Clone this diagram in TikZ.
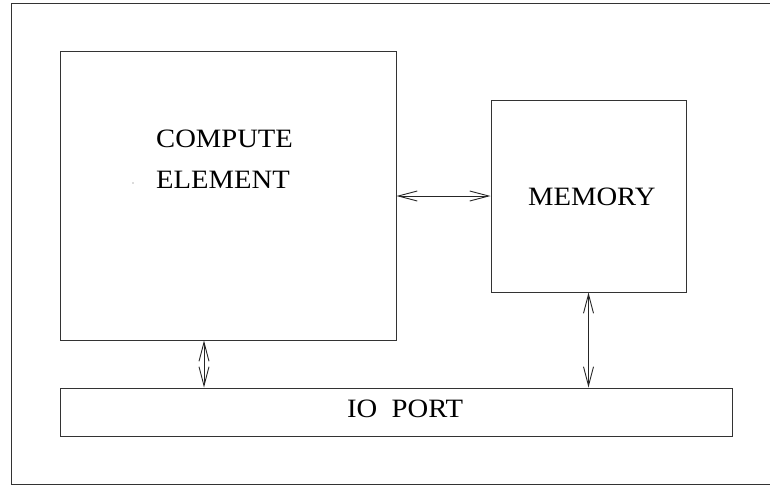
\documentclass[tikz,border=0pt]{standalone}
\usepackage{fontspec}
\setmainfont{Liberation Serif}
\usetikzlibrary{arrows.meta}
\begin{document}
\begin{tikzpicture}[x=1pt,y=-1pt,
  box/.style={draw=black!80,line width=1pt,minimum width=#1},
  conn/.style={draw=black!85,line width=0.9pt,{Straight Barb[length=19pt,width=10pt]}-{Straight Barb[length=19pt,width=10pt]}},
  lbl/.style={font=\fontsize{26.5}{30}\selectfont,anchor=base west,inner sep=0pt}]
\useasboundingbox (0,0) rectangle (770,487);
\draw[black!80,line width=1pt] (11,4) rectangle (775,484);
\node[box=336pt,minimum height=288pt,inner sep=0pt] (compute) at (228,196) {};
\node[box=195pt,minimum height=192pt,inner sep=0pt] (memory) at (588.5,196) {};
\node[box=672pt,minimum height=48pt,inner sep=0pt] (io) at (396,412) {};
\node[lbl] (t1) at (156,147) {\scalebox{1.08}[1]{COMPUTE}};
\node[lbl] (t2) at (156,188) {\scalebox{1.08}[1]{ELEMENT}};
\node[lbl] (t3) at (528,205) {\scalebox{1.08}[1]{MEMORY}};
\node[lbl] (t4) at (347,417) {\scalebox{1.08}[1]{IO~~PORT}};
\fill[black!60] (133,183) circle (0.6pt);
\draw[conn] (compute.east) -- (memory.west);
\draw[conn] (compute.south -| 204,0) -- (io.north -| 204,0);
\draw[conn] (memory.south) -- (io.north -| memory.south);
\end{tikzpicture}
\end{document}
